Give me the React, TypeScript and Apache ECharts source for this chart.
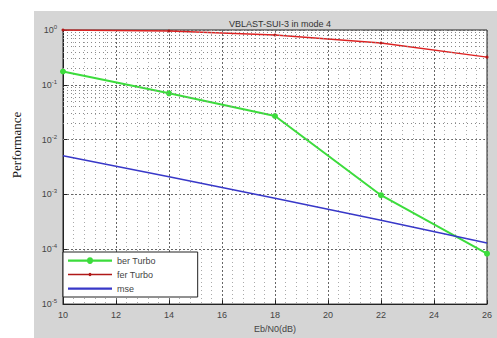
import React, { useEffect, useRef } from "react";
import * as echarts from "echarts";

const xValues = [10, 14, 18, 22, 26];
const berTurbo = [0.175, 0.07, 0.027, 0.00097, 0.000083];
const ferTurbo = [1.0, 0.96, 0.81, 0.58, 0.32];
const mse = [0.0051, 0.0021, 0.00085, 0.00034, 0.00013];
const xTicks = [10, 12, 14, 16, 18, 20, 22, 24, 26];
const decades = [-5, -4, -3, -2, -1, 0];

const iconBig = "path://M0,4 L44,4 L44,6 L0,6 Z M19,5 A3,3 0 1,1 25,5 A3,3 0 1,1 19,5 Z M0,1 L0.01,1 L0.01,9 L0,9 Z";
const iconSmall = "path://M0,4.4 L44,4.4 L44,5.6 L0,5.6 Z M20.5,5 A1.5,1.5 0 1,1 23.5,5 A1.5,1.5 0 1,1 20.5,5 Z M0,1 L0.01,1 L0.01,9 L0,9 Z";
const iconLine = "path://M0,4 L44,4 L44,6 L0,6 Z M0,1 L0.01,1 L0.01,9 L0,9 Z";

const App: React.FC = () => {
  const ref = useRef<HTMLDivElement>(null);
  useEffect(() => {
    if (!ref.current) return;
    const chart = echarts.init(ref.current, undefined, { renderer: "svg" });
    const minorGrid: number[] = [];
    for (let k = -5; k < 0; k++) {
      for (let m = 2; m <= 9; m++) minorGrid.push(m * Math.pow(10, k));
    }
    const pair = (ys: number[]) => xValues.map((x, i) => [x, ys[i]]);
    const font = "Liberation Sans, Arial, sans-serif";
    chart.setOption({
      animation: false,
      graphic: [
        {
          type: "rect",
          z: -100,
          shape: { x: 34, y: 11, width: 463, height: 327 },
          style: { fill: "#d5d5d5" },
        },
        {
          type: "text",
          z: 10,
          x: 16,
          y: 145,
          rotation: Math.PI / 2,
          style: {
            text: "Performance",
            font: '13px "Liberation Serif", "Times New Roman", serif',
            fill: "#111",
            align: "center",
            verticalAlign: "middle",
          },
        },
      ],
      title: {
        text: "VBLAST-SUI-3 in mode 4",
        left: 275,
        top: 14,
        textAlign: "center",
        textStyle: { fontSize: 9, fontWeight: "normal", color: "#333", fontFamily: font },
      },
      grid: {
        left: 63,
        top: 30,
        right: 10,
        bottom: 31,
        show: true,
        backgroundColor: "#ffffff",
        borderColor: "#222",
        borderWidth: 1,
      },
      legend: {
        orient: "vertical",
        left: 63,
        top: 252,
        width: 111,
        backgroundColor: "#ffffff",
        borderColor: "#222",
        borderWidth: 1,
        borderRadius: 0,
        padding: [4, 42, 4, 5],
        itemGap: 5,
        itemWidth: 44,
        itemHeight: 9,
        symbolKeepAspect: false,
        textStyle: { fontSize: 9, color: "#444", fontFamily: font },
        data: [
          { name: "ber Turbo", icon: iconBig },
          { name: "fer Turbo", icon: iconSmall },
          { name: "mse", icon: iconLine },
        ],
      },
      xAxis: {
        type: "value",
        min: 10,
        max: 26,
        interval: 2,
        name: "Eb/N0(dB)",
        nameLocation: "middle",
        nameGap: 18,
        nameTextStyle: { fontSize: 9, color: "#444", fontFamily: font },
        axisLine: { show: true, onZero: false, lineStyle: { color: "#222" } },
        axisTick: { show: true, inside: true, length: 4, lineStyle: { color: "#222" } },
        axisLabel: {
          fontSize: 9,
          color: "#444",
          margin: 6,
          fontFamily: font,
          formatter: (v: number) => (xTicks.includes(v) ? String(v) : ""),
        },
        splitLine: { show: true, lineStyle: { type: [2, 2], color: "#666", width: 1 } },
        minorTick: { show: false, splitNumber: 5 },
        minorSplitLine: { show: true, lineStyle: { type: [1, 3], color: "#aaa", width: 1 } },
      },
      yAxis: {
        type: "log",
        logBase: 10,
        min: 1e-5,
        max: 1,
        axisLine: { show: true, lineStyle: { color: "#222" } },
        axisTick: { show: true, inside: true, length: 4, lineStyle: { color: "#222" } },
        axisLabel: {
          fontSize: 9,
          color: "#444",
          margin: 6,
          fontFamily: font,
          formatter: (v: number) => {
            const e = Math.round(Math.log10(v));
            return decades.includes(e) ? `10{sup|${e}}` : "";
          },
          rich: { sup: { fontSize: 6, verticalAlign: "top", padding: [0, 0, 6, 0], color: "#444" } },
        },
        splitLine: { show: true, lineStyle: { type: [2, 2], color: "#666", width: 1 } },
      },
      series: [
        {
          name: "grid-minor",
          type: "line",
          data: [],
          silent: true,
          markLine: {
            silent: true,
            symbol: "none",
            label: { show: false },
            lineStyle: { type: [1, 3], color: "#888", width: 1 },
            data: minorGrid.map((v) => ({ yAxis: v })),
          },
        },
        {
          name: "ber Turbo",
          type: "line",
          data: pair(berTurbo),
          color: "#3cdc3c",
          lineStyle: { width: 2, color: "#3cdc3c" },
          symbol: "circle",
          symbolSize: 6,
          itemStyle: { color: "#3cdc3c" },
        },
        {
          name: "fer Turbo",
          type: "line",
          data: pair(ferTurbo),
          color: "#dd2222",
          lineStyle: { width: 1.5, color: "#dd2222" },
          symbol: "circle",
          symbolSize: 3,
          itemStyle: { color: "#b01818" },
        },
        {
          name: "mse",
          type: "line",
          data: pair(mse),
          color: "#3838c8",
          lineStyle: { width: 1.5, color: "#3838c8" },
          symbol: "none",
        },
      ],
    });
    return () => chart.dispose();
  }, []);
  return (
    <div
      ref={ref}
      style={{ position: "absolute", left: 0, top: 0, width: 497, height: 338 }}
    />
  );
};

export default App;
